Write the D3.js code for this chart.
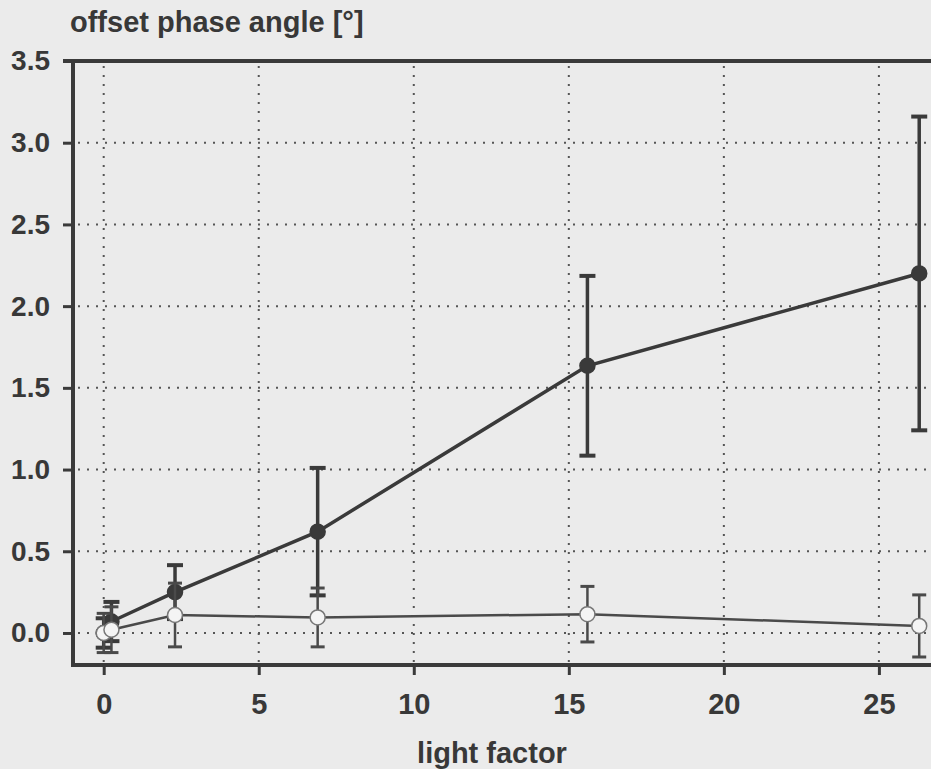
<!DOCTYPE html>
<html>
<head>
<meta charset="utf-8">
<script src="https://d3js.org/d3.v7.min.js"></script>
<style>
  body { margin: 0; background: #ebebeb; }
  svg { display: block; }
  text { font-family: "Liberation Sans", Arial, sans-serif; font-weight: bold; fill: #383838; }
</style>
</head>
<body>
<div id="chart"></div>
<script>
// data
var lightFactor = [0, 0.25, 2.3, 6.9, 15.6, 26.3];
var filledY = [0.0, 0.07, 0.25, 0.62, 1.635, 2.2];
var filledErr = [0.09, 0.12, 0.165, 0.39, 0.55, 0.96];
var openY = [0.0, 0.02, 0.11, 0.095, 0.115, 0.043];
var openErr = [0.12, 0.14, 0.195, 0.18, 0.17, 0.19];
var xTicks = [0, 5, 10, 15, 20, 25];
var yTicks = [0, 0.5, 1.0, 1.5, 2.0, 2.5, 3.0, 3.5];
var yGrid = [0, 0.5, 1.0, 1.5, 2.0, 2.5, 3.0];

var svgWidth = 931;
var svgHeight = 769;

var svg = d3.select("#chart")
  .append("svg")
  .attr("width", svgWidth)
  .attr("height", svgHeight);

var xScale = d3.scaleLinear()
  .domain([-0.99, 26.68])
  .range([73, 931]);

var yScale = d3.scaleLinear()
  .domain([-0.196, 3.5])
  .range([665, 61]);

var ink = "#3a3a3a";

// dotted grid
var grid = svg.append("g");
grid.selectAll(".vgrid")
  .data(xTicks)
  .enter()
  .append("line")
  .attr("x1", d => xScale(d))
  .attr("x2", d => xScale(d))
  .attr("y1", 66)
  .attr("y2", 662)
  .attr("stroke", "#555")
  .attr("stroke-width", 2)
  .attr("stroke-dasharray", "2,7");
grid.selectAll(".hgrid")
  .data(yGrid)
  .enter()
  .append("line")
  .attr("x1", 78)
  .attr("x2", 931)
  .attr("y1", d => yScale(d))
  .attr("y2", d => yScale(d))
  .attr("stroke", "#555")
  .attr("stroke-width", 2)
  .attr("stroke-dasharray", "2,7");

// axes
var xAxis = svg.append("g")
  .attr("transform", "translate(0,665)")
  .call(d3.axisBottom(xScale).tickValues(xTicks).tickSize(10).tickPadding(18).tickFormat(d3.format("d")));

var yAxis = svg.append("g")
  .attr("transform", "translate(73,0)")
  .call(d3.axisLeft(yScale).tickValues(yTicks).tickSize(10).tickPadding(13).tickFormat(d3.format(".1f")));

[xAxis, yAxis].forEach(function(ax) {
  ax.select(".domain").remove();
  ax.selectAll(".tick line").attr("stroke", ink).attr("stroke-width", 3);
  ax.selectAll(".tick text").attr("fill", ink).style("font-size", "29px");
});
yAxis.selectAll(".tick text").style("font-size", "28px");

// frame lines: left, bottom, top
svg.append("line").attr("x1", 73).attr("x2", 73).attr("y1", 59).attr("y2", 667)
  .attr("stroke", ink).attr("stroke-width", 4);
svg.append("line").attr("x1", 71).attr("x2", 931).attr("y1", 665).attr("y2", 665)
  .attr("stroke", ink).attr("stroke-width", 4);
svg.append("line").attr("x1", 63).attr("x2", 931).attr("y1", 61).attr("y2", 61)
  .attr("stroke", ink).attr("stroke-width", 4);

// draws one series with its error bars
function drawSeries(ys, errs, opts) {
  var pts = lightFactor.map((x, i) => ({x: x, y: ys[i], e: errs[i]}));
  var g = svg.append("g");

  var line = d3.line()
    .x(d => xScale(d.x))
    .y(d => yScale(d.y));

  g.append("path")
    .datum(pts)
    .attr("d", line)
    .attr("fill", "none")
    .attr("stroke", opts.lineColor)
    .attr("stroke-width", opts.lineWidth);

  var bars = g.selectAll(".err")
    .data(pts)
    .enter()
    .append("g");
  bars.append("line")
    .attr("x1", d => xScale(d.x))
    .attr("x2", d => xScale(d.x))
    .attr("y1", d => yScale(d.y - d.e))
    .attr("y2", d => yScale(d.y + d.e))
    .attr("stroke", opts.barColor)
    .attr("stroke-width", opts.barWidth);
  [-1, 1].forEach(function(s) {
    bars.append("line")
      .attr("x1", d => xScale(d.x) - opts.cap)
      .attr("x2", d => xScale(d.x) + opts.cap)
      .attr("y1", d => yScale(d.y + s * d.e))
      .attr("y2", d => yScale(d.y + s * d.e))
      .attr("stroke", opts.barColor)
      .attr("stroke-width", opts.capWidth);
  });

  g.selectAll("circle")
    .data(pts)
    .enter()
    .append("circle")
    .attr("cx", d => xScale(d.x))
    .attr("cy", d => yScale(d.y))
    .attr("r", opts.r)
    .attr("fill", opts.fill)
    .attr("stroke", opts.stroke)
    .attr("stroke-width", 1.5);
}

drawSeries(filledY, filledErr, {
  lineColor: ink, lineWidth: 3.5, barColor: ink, barWidth: 3.5,
  cap: 8, capWidth: 4, r: 7.5, fill: ink, stroke: ink
});
drawSeries(openY, openErr, {
  lineColor: "#4a4a4a", lineWidth: 2.5, barColor: "#4a4a4a", barWidth: 2.5,
  cap: 7, capWidth: 3, r: 7.5, fill: "#f4f4f4", stroke: "#777"
});

// titles
svg.append("text")
  .attr("x", 70)
  .attr("y", 32)
  .style("font-size", "29px")
  .text("offset phase angle [°]");

svg.append("text")
  .attr("x", 492)
  .attr("y", 763)
  .attr("text-anchor", "middle")
  .style("font-size", "29px")
  .text("light factor");
</script>
</body>
</html>
